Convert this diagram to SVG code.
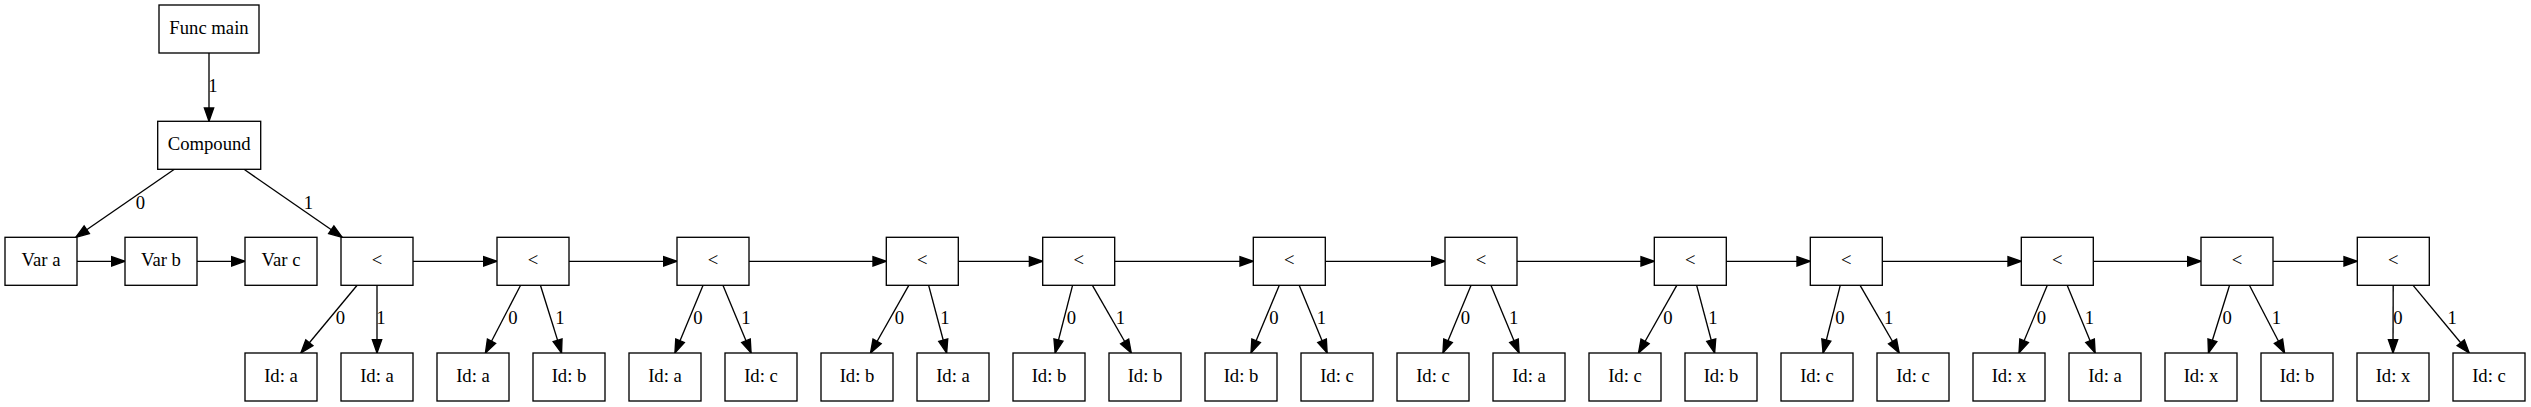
<svg xmlns="http://www.w3.org/2000/svg" width="2531" height="407" viewBox="0 0 2531 407">
<style>
.n rect{fill:#fff;stroke:#000;stroke-width:1.33}
.n text{font-family:"Liberation Serif","Times New Roman",serif;font-size:18.67px;text-anchor:middle;fill:#000}
.e line{stroke:#000;stroke-width:1.33;marker-end:url(#ah)}
.e text{font-family:"Liberation Serif","Times New Roman",serif;font-size:18.67px;text-anchor:middle;fill:#000}
</style>
<defs>
<marker id="ah" markerUnits="userSpaceOnUse" markerWidth="16" markerHeight="12" refX="13.33" refY="4.67" orient="auto" overflow="visible">
<path d="M0,0 L13.33,4.67 L0,9.33 Z" fill="#000" stroke="#000" stroke-width="1.33"/>
</marker>
</defs>
<rect width="2531" height="407" fill="#fff"/>
<g id="edges" class="e">
<line x1="209" y1="53" x2="209" y2="121.3"/>
<text x="213" y="91.5">1</text>
<line x1="174.4" y1="169.3" x2="75.8" y2="237.3"/>
<text x="140.5" y="209">0</text>
<line x1="244" y1="169.3" x2="342.2" y2="237.3"/>
<text x="308.3" y="209">1</text>
<line x1="77" y1="261.3" x2="125" y2="261.3"/>
<line x1="197" y1="261.3" x2="245" y2="261.3"/>
<line x1="413" y1="261.3" x2="497" y2="261.3"/>
<line x1="569" y1="261.3" x2="677" y2="261.3"/>
<line x1="749" y1="261.3" x2="886.3" y2="261.3"/>
<line x1="958.3" y1="261.3" x2="1042.7" y2="261.3"/>
<line x1="1114.7" y1="261.3" x2="1253.3" y2="261.3"/>
<line x1="1325.3" y1="261.3" x2="1445" y2="261.3"/>
<line x1="1517" y1="261.3" x2="1654.3" y2="261.3"/>
<line x1="1726.3" y1="261.3" x2="1810.3" y2="261.3"/>
<line x1="1882.3" y1="261.3" x2="2021.3" y2="261.3"/>
<line x1="2093.3" y1="261.3" x2="2201" y2="261.3"/>
<line x1="2273" y1="261.3" x2="2357.3" y2="261.3"/>
<line x1="357.14" y1="285.3" x2="300.86" y2="353"/><text x="340.5" y="324">0</text>
<line x1="377" y1="285.3" x2="377" y2="353"/><text x="381" y="324">1</text>
<line x1="520.59" y1="285.3" x2="485.41" y2="353"/><text x="512.8" y="324">0</text>
<line x1="540.45" y1="285.3" x2="561.55" y2="353"/><text x="559.8" y="324">1</text>
<line x1="703.07" y1="285.3" x2="674.93" y2="353"/><text x="697.8" y="324">0</text>
<line x1="722.93" y1="285.3" x2="751.07" y2="353"/><text x="745.8" y="324">1</text>
<line x1="908.79" y1="285.3" x2="870.51" y2="353"/><text x="899.5" y="324">0</text>
<line x1="928.65" y1="285.3" x2="946.65" y2="353"/><text x="945" y="324">1</text>
<line x1="1072.56" y1="285.3" x2="1055.14" y2="353"/><text x="1071.3" y="324">0</text>
<line x1="1092.42" y1="285.3" x2="1131.28" y2="353"/><text x="1120.5" y="324">1</text>
<line x1="1279.31" y1="285.3" x2="1250.99" y2="353"/><text x="1273.8" y="324">0</text>
<line x1="1299.17" y1="285.3" x2="1327.13" y2="353"/><text x="1321.3" y="324">1</text>
<line x1="1471.07" y1="285.3" x2="1442.93" y2="353"/><text x="1465.5" y="324">0</text>
<line x1="1490.93" y1="285.3" x2="1519.07" y2="353"/><text x="1513.7" y="324">1</text>
<line x1="1676.79" y1="285.3" x2="1638.51" y2="353"/><text x="1667.8" y="324">0</text>
<line x1="1696.65" y1="285.3" x2="1714.65" y2="353"/><text x="1712.8" y="324">1</text>
<line x1="1840.24" y1="285.3" x2="1823.06" y2="353"/><text x="1840" y="324">0</text>
<line x1="1860.1" y1="285.3" x2="1899.2" y2="353"/><text x="1888.7" y="324">1</text>
<line x1="2047.31" y1="285.3" x2="2018.99" y2="353"/><text x="2041.3" y="324">0</text>
<line x1="2067.17" y1="285.3" x2="2095.13" y2="353"/><text x="2089.5" y="324">1</text>
<line x1="2229.55" y1="285.3" x2="2208.45" y2="353"/><text x="2227.2" y="324">0</text>
<line x1="2249.41" y1="285.3" x2="2284.59" y2="353"/><text x="2276.5" y="324">1</text>
<line x1="2393.2" y1="285.3" x2="2393" y2="353"/><text x="2397.8" y="324">0</text>
<line x1="2413.1" y1="285.3" x2="2469.2" y2="353"/><text x="2452.2" y="324">1</text>
</g>
<g id="func_main" class="n"><rect x="159" y="5" width="100" height="48"/><text x="209" y="34.3">Func main</text></g>
<g id="compound" class="n"><rect x="157.7" y="121.3" width="103" height="48"/><text x="209.2" y="150">Compound</text></g>
<g id="var_a" class="n"><rect x="5" y="237.3" width="72" height="48"/><text x="41" y="266.3">Var a</text></g>
<g id="var_b" class="n"><rect x="125" y="237.3" width="72" height="48"/><text x="161" y="266.3">Var b</text></g>
<g id="var_c" class="n"><rect x="245" y="237.3" width="72" height="48"/><text x="281" y="266.3">Var c</text></g>
<g id="lt1" class="n"><rect x="341" y="237.3" width="72" height="48"/><text x="377" y="266.3">&lt;</text></g>
<g id="lt2" class="n"><rect x="497" y="237.3" width="72" height="48"/><text x="533" y="266.3">&lt;</text></g>
<g id="lt3" class="n"><rect x="677" y="237.3" width="72" height="48"/><text x="713" y="266.3">&lt;</text></g>
<g id="lt4" class="n"><rect x="886.3" y="237.3" width="72" height="48"/><text x="922.3" y="266.3">&lt;</text></g>
<g id="lt5" class="n"><rect x="1042.7" y="237.3" width="72" height="48"/><text x="1078.7" y="266.3">&lt;</text></g>
<g id="lt6" class="n"><rect x="1253.3" y="237.3" width="72" height="48"/><text x="1289.3" y="266.3">&lt;</text></g>
<g id="lt7" class="n"><rect x="1445" y="237.3" width="72" height="48"/><text x="1481" y="266.3">&lt;</text></g>
<g id="lt8" class="n"><rect x="1654.3" y="237.3" width="72" height="48"/><text x="1690.3" y="266.3">&lt;</text></g>
<g id="lt9" class="n"><rect x="1810.3" y="237.3" width="72" height="48"/><text x="1846.3" y="266.3">&lt;</text></g>
<g id="lt10" class="n"><rect x="2021.3" y="237.3" width="72" height="48"/><text x="2057.3" y="266.3">&lt;</text></g>
<g id="lt11" class="n"><rect x="2201" y="237.3" width="72" height="48"/><text x="2237" y="266.3">&lt;</text></g>
<g id="lt12" class="n"><rect x="2357.3" y="237.3" width="72" height="48"/><text x="2393.3" y="266.3">&lt;</text></g>
<g id="id0" class="n"><rect x="245" y="353" width="72" height="48"/><text x="281" y="382.3">Id: a</text></g>
<g id="id1" class="n"><rect x="341" y="353" width="72" height="48"/><text x="377" y="382.3">Id: a</text></g>
<g id="id2" class="n"><rect x="437" y="353" width="72" height="48"/><text x="473" y="382.3">Id: a</text></g>
<g id="id3" class="n"><rect x="533" y="353" width="72" height="48"/><text x="569" y="382.3">Id: b</text></g>
<g id="id4" class="n"><rect x="629" y="353" width="72" height="48"/><text x="665" y="382.3">Id: a</text></g>
<g id="id5" class="n"><rect x="725" y="353" width="72" height="48"/><text x="761" y="382.3">Id: c</text></g>
<g id="id6" class="n"><rect x="821" y="353" width="72" height="48"/><text x="857" y="382.3">Id: b</text></g>
<g id="id7" class="n"><rect x="917" y="353" width="72" height="48"/><text x="953" y="382.3">Id: a</text></g>
<g id="id8" class="n"><rect x="1013" y="353" width="72" height="48"/><text x="1049" y="382.3">Id: b</text></g>
<g id="id9" class="n"><rect x="1109" y="353" width="72" height="48"/><text x="1145" y="382.3">Id: b</text></g>
<g id="id10" class="n"><rect x="1205" y="353" width="72" height="48"/><text x="1241" y="382.3">Id: b</text></g>
<g id="id11" class="n"><rect x="1301" y="353" width="72" height="48"/><text x="1337" y="382.3">Id: c</text></g>
<g id="id12" class="n"><rect x="1397" y="353" width="72" height="48"/><text x="1433" y="382.3">Id: c</text></g>
<g id="id13" class="n"><rect x="1493" y="353" width="72" height="48"/><text x="1529" y="382.3">Id: a</text></g>
<g id="id14" class="n"><rect x="1589" y="353" width="72" height="48"/><text x="1625" y="382.3">Id: c</text></g>
<g id="id15" class="n"><rect x="1685" y="353" width="72" height="48"/><text x="1721" y="382.3">Id: b</text></g>
<g id="id16" class="n"><rect x="1781" y="353" width="72" height="48"/><text x="1817" y="382.3">Id: c</text></g>
<g id="id17" class="n"><rect x="1877" y="353" width="72" height="48"/><text x="1913" y="382.3">Id: c</text></g>
<g id="id18" class="n"><rect x="1973" y="353" width="72" height="48"/><text x="2009" y="382.3">Id: x</text></g>
<g id="id19" class="n"><rect x="2069" y="353" width="72" height="48"/><text x="2105" y="382.3">Id: a</text></g>
<g id="id20" class="n"><rect x="2165" y="353" width="72" height="48"/><text x="2201" y="382.3">Id: x</text></g>
<g id="id21" class="n"><rect x="2261" y="353" width="72" height="48"/><text x="2297" y="382.3">Id: b</text></g>
<g id="id22" class="n"><rect x="2357" y="353" width="72" height="48"/><text x="2393" y="382.3">Id: x</text></g>
<g id="id23" class="n"><rect x="2453" y="353" width="72" height="48"/><text x="2489" y="382.3">Id: c</text></g>
</svg>
